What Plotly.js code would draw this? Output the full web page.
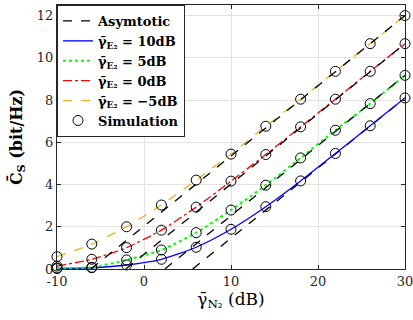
<!DOCTYPE html>
<html>
<head>
<meta charset="utf-8">
<script src="https://cdn.plot.ly/plotly-3.0.1.min.js"></script>
<style>html,body{margin:0;padding:0;background:#fff;}</style>
</head>
<body>
<div id="chart" style="width:413px;height:320px;"></div>
<script>
// SNR of N2 (dB) at simulation points
const snrDb = [-10, -6, -2, 2, 6, 10, 14, 18, 22, 26, 30];
// Curves (= simulation) for each gamma_E2
const cs10dB = [0.02, 0.06, 0.19, 0.46, 1.03, 1.88, 2.95, 4.17, 5.47, 6.78, 8.10];
const cs5dB  = [0.05, 0.08, 0.43, 0.90, 1.72, 2.79, 3.97, 5.26, 6.57, 7.83, 9.17];
const cs0dB  = [0.14, 0.46, 1.01, 1.84, 2.93, 4.16, 5.42, 6.73, 8.04, 9.36, 10.67];
const csM5dB = [0.58, 1.18, 2.00, 3.03, 4.21, 5.44, 6.76, 8.04, 9.36, 10.67, 12.00];
// Asymptotes: x-intercept and end point at 30 dB
const asymX = [[5.6, 30], [2.4, 30], [-2.1, 30], [-6.1, 30]];
const asymY = [[0, 8.10], [0, 9.17], [0, 10.67], [0, 12.00]];
const seriesNames = ['γ̄<sub>E₂</sub> = 10dB', 'γ̄<sub>E₂</sub> = 5dB', 'γ̄<sub>E₂</sub> = 0dB', 'γ̄<sub>E₂</sub> = −5dB'];
const xTicks = [-10, 0, 10, 20, 30];
const yTicks = [0, 2, 4, 6, 8, 10, 12];

const seriesData = [cs10dB, cs5dB, cs0dB, csM5dB];
const colors = ['#0000FF', '#00FF00', '#FF0000', '#EDB120'];
const dashes = ['solid', 'dot', 'dashdot', 'dash'];
const widths = [1.3, 2, 1.3, 1.3];

const traces = [];
traces.push({x: asymX[0], y: asymY[0], mode: 'lines', name: '<b>Asymtotic</b>',
  line: {color: '#000', dash: 'dash', width: 1.3}, legendgroup: 'asym', showlegend: true});
seriesData.forEach((s, i) => {
  traces.push({x: snrDb, y: s, mode: 'lines', name: '<b>' + seriesNames[i] + '</b>',
    line: {color: colors[i], dash: dashes[i], width: widths[i], shape: 'spline', smoothing: 0.6}});
});
traces.push({x: snrDb, y: seriesData[0], mode: 'markers', name: '<b>Simulation</b>',
  marker: {symbol: 'circle-open', size: 10, color: '#000', line: {width: 1, color: '#000'}},
  legendgroup: 'sim', cliponaxis: false});
for (let i = 1; i < 4; i++) {
  traces.push({x: asymX[i], y: asymY[i], mode: 'lines', showlegend: false, legendgroup: 'asym',
    line: {color: '#000', dash: 'dash', width: 1.3}});
}
for (let i = 1; i < 4; i++) {
  traces.push({x: snrDb, y: seriesData[i], mode: 'markers', showlegend: false, legendgroup: 'sim',
    marker: {symbol: 'circle-open', size: 10, color: '#000', line: {width: 1, color: '#000'}},
    cliponaxis: false});
}

const fontFam = 'DejaVu Serif';
const layout = {
  width: 413, height: 320,
  margin: {l: 57, r: 8, t: 5, b: 51},
  paper_bgcolor: '#fff', plot_bgcolor: '#fff',
  font: {family: fontFam, size: 13, color: '#262626'},
  showlegend: true,
  legend: {x: 0, y: 1, xanchor: 'left', yanchor: 'top', bgcolor: '#fff',
    bordercolor: '#262626', borderwidth: 1, font: {family: fontFam, size: 13, color: '#000'},
    tracegroupgap: 0, itemwidth: 30},
  xaxis: {range: [-10, 30], tickvals: xTicks, ticktext: xTicks.map(String),
    showgrid: true, gridcolor: '#e3e3e3', zeroline: false, showline: true, linecolor: '#262626',
    linewidth: 1, mirror: 'ticks', ticks: 'inside', ticklen: 4, tickcolor: '#262626',
    ticklabeloverflow: 'allow',
    tickfont: {family: fontFam, size: 13, color: '#262626'},
    title: {text: 'γ̄<sub>N₂</sub> (dB)', font: {family: fontFam, size: 17, color: '#000'}, standoff: 4}},
  yaxis: {range: [0, 12.5], tickvals: yTicks, ticktext: yTicks.map(String),
    showgrid: true, gridcolor: '#e3e3e3', zeroline: false, showline: true, linecolor: '#262626',
    linewidth: 1, mirror: 'ticks', ticks: 'inside', ticklen: 4, tickcolor: '#262626',
    ticklabeloverflow: 'allow',
    tickfont: {family: fontFam, size: 13, color: '#262626'},
    title: {text: '<b>C̄<sub>S</sub> (bit/Hz)</b>', font: {family: fontFam, size: 16, color: '#000'}, standoff: 10}}
};
Plotly.newPlot('chart', traces, layout, {displayModeBar: false, staticPlot: true});
</script>
</body>
</html>
